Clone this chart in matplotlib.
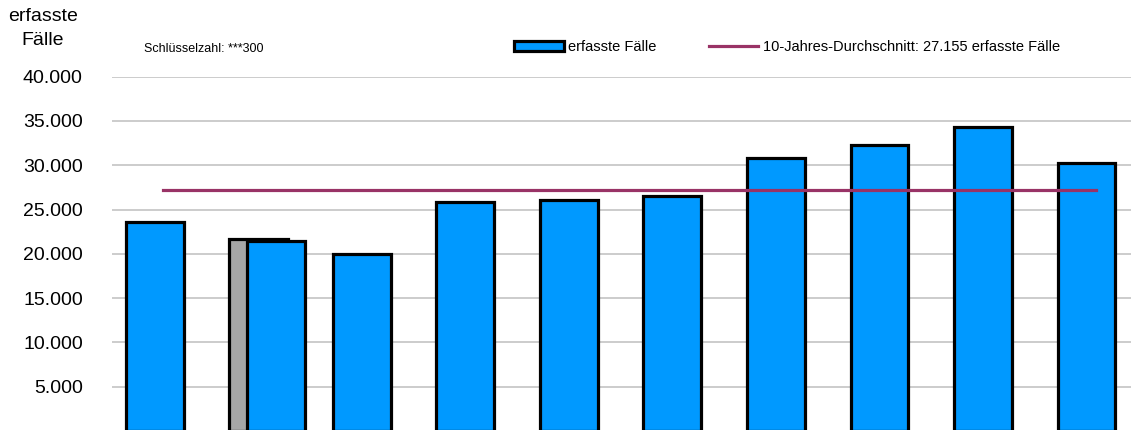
import matplotlib.pyplot as plt
import numpy as np
from matplotlib.ticker import FuncFormatter

plt.rcParams['font.family'] = ['Liberation Sans', 'DejaVu Sans']

# erfasste Faelle je Jahr
faelle = [23630, 21480, 19980, 25890, 26040, 26530, 30790, 32320, 34350, 30290]
# grauer Vergleichsbalken hinter dem zweiten Jahr
vergleich_index = 1
vergleich_wert = 21640
durchschnitt = 27155
y_ticks = [5000, 10000, 15000, 20000, 25000, 30000, 35000, 40000]

blau = '#0099FF'
grau = '#A6A6A6'
linie = '#993366'

fig = plt.figure(figsize=(11.31, 4.30), dpi=100)
W, H = 1131, 430
ax = fig.add_axes([112 / W, (430 - 431) / H, 1 - 112 / W, (431 - 76.7) / H])

x = np.arange(len(faelle), dtype=float)
x_blau = x.copy()
x_blau[vergleich_index] += 0.17

ax.bar(vergleich_index, vergleich_wert, width=0.57, color=grau,
       edgecolor='black', linewidth=2.3, zorder=2)
bars = ax.bar(x_blau, faelle, width=0.56, color=blau, edgecolor='black',
              linewidth=2.3, zorder=3, label='erfasste Fälle')
avg_line, = ax.plot([x[0] + 0.08, x[-1] + 0.09], [durchschnitt, durchschnitt],
                    color=linie, linewidth=2.3, zorder=4,
                    label=f'10-Jahres-Durchschnitt: {durchschnitt:,} erfasste Fälle'.replace(',', '.'))

ax.set_xlim(-0.415, 9.43)
ax.set_ylim(0, 40000)
ax.set_yticks(y_ticks)
ax.yaxis.set_major_formatter(FuncFormatter(lambda v, p: f'{int(v):,}'.replace(',', '.')))
ax.tick_params(axis='y', length=0, pad=21, labelsize=14)
ax.set_xticks([])
ax.grid(axis='y', color='#C4C4C4', linewidth=1.2, zorder=0)
ax.set_axisbelow(True)
for s in ax.spines.values():
    s.set_visible(False)

fig.text(43 / W, 1 - 21 / H, 'erfasste', ha='center', va='baseline', fontsize=14)
fig.text(43 / W, 1 - 45 / H, 'Fälle', ha='center', va='baseline', fontsize=14)
fig.text(144 / W, 1 - 52 / H, 'Schlüsselzahl: ***300', ha='left', va='baseline', fontsize=9)

fig.legend(handles=[bars, avg_line], loc='center left',
           bbox_to_anchor=(514 / W, 1 - 47 / H), ncol=2, frameon=False,
           fontsize=10.5, handlelength=3.4, handleheight=0.65, handletextpad=0.33,
           columnspacing=3.55, borderpad=0, borderaxespad=0)

fig.savefig('out.png', dpi=100)
